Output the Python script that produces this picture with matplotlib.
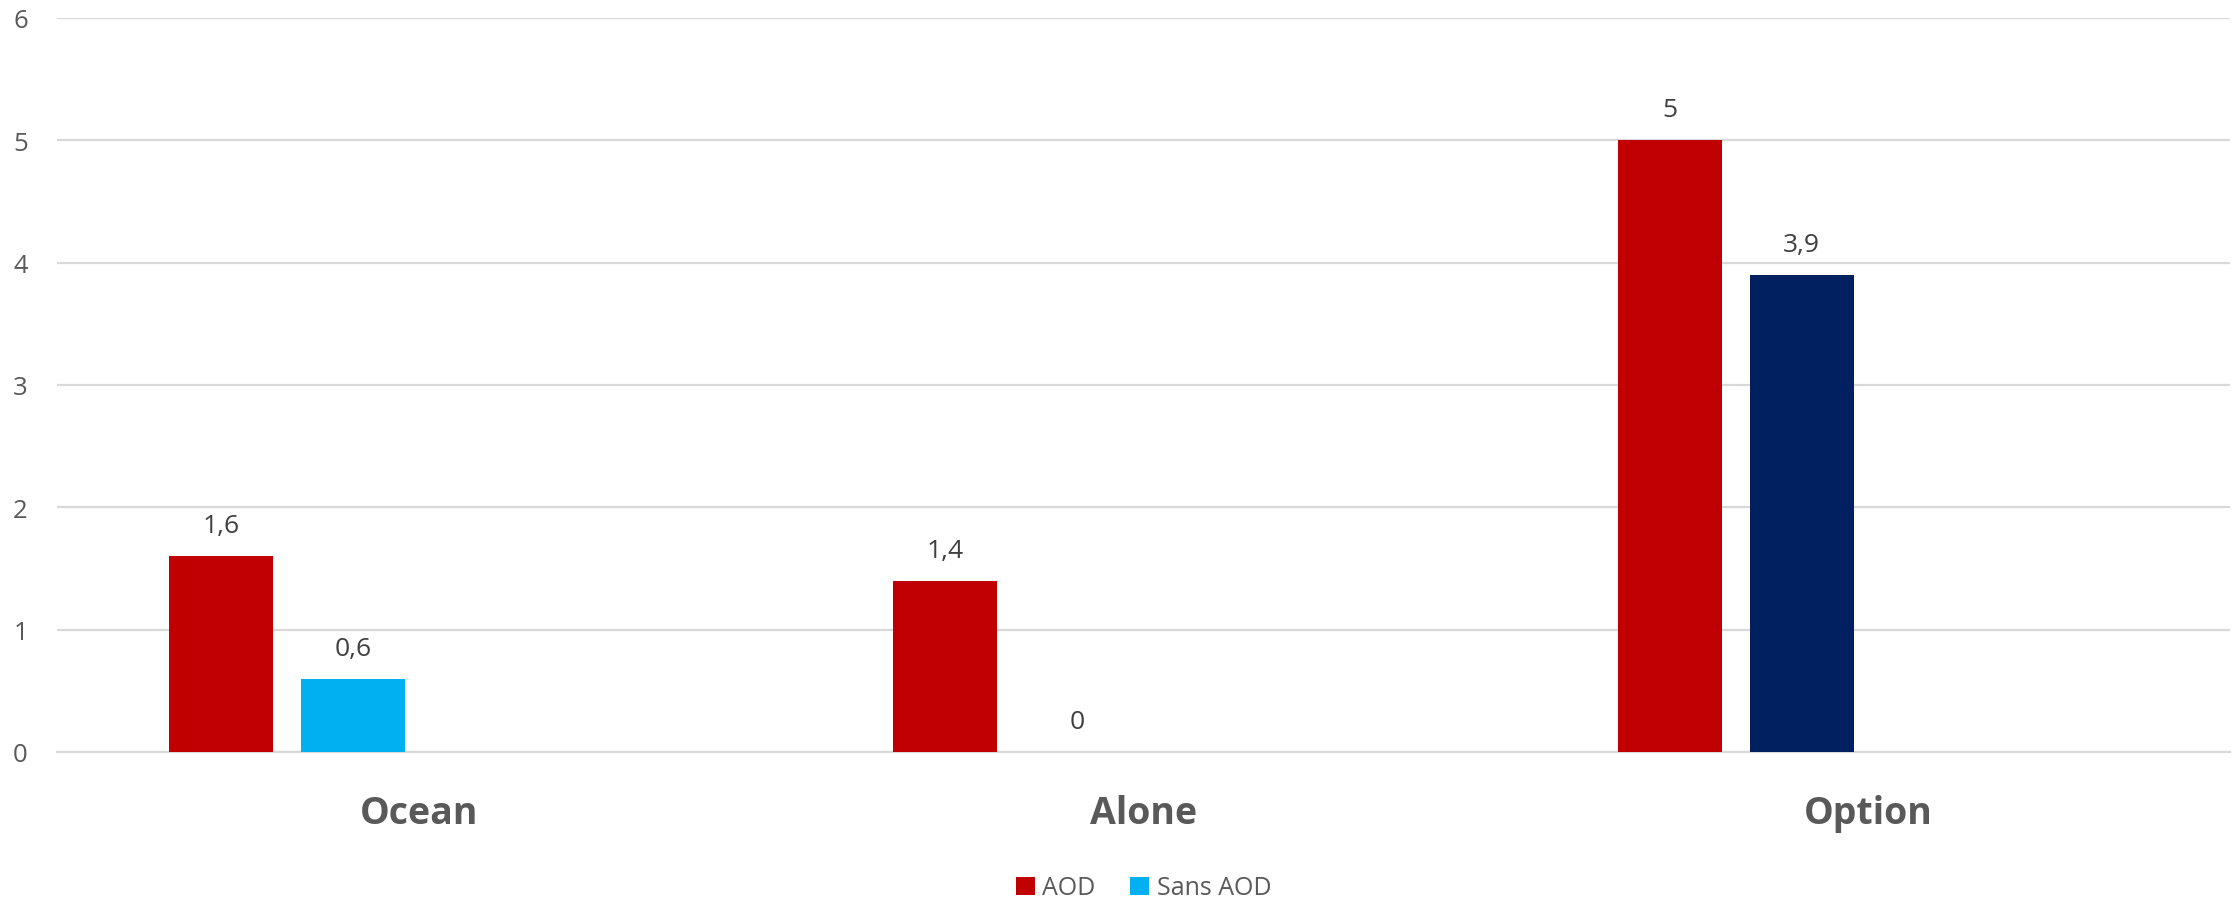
import matplotlib
matplotlib.use("Agg")
import matplotlib.pyplot as plt
from matplotlib.patches import Patch
import numpy as np

categories = ["Ocean", "Alone", "Option"]
series_names = ["AOD", "Sans AOD"]
aod = [1.6, 1.4, 5.0]
sans_aod = [0.6, 0.0, 3.9]
value_labels_aod = ["1,6", "1,4", "5"]
value_labels_sans = ["0,6", "0", "3,9"]
y_ticks = [0, 1, 2, 3, 4, 5, 6]

RED = "#C00000"
CYAN = "#00B0F0"
NAVY = "#002060"
GRID = "#D9D9D9"
AXIS_TEXT = "#595959"
LABEL_TEXT = "#404040"

plt.rcParams["font.family"] = ["Open Sans", "DejaVu Sans"]

W, H = 2232, 904
fig = plt.figure(figsize=(W / 100, H / 100), dpi=100)
left_px, right_px, top_px, bottom_px = 57, 2230, 19, 753
ax = fig.add_axes([left_px / W, 1 - bottom_px / H,
                   (right_px - left_px) / W, (bottom_px - top_px) / H])

# four bar slots per category (Excel-style layout), only the first two are used
slot_step = 132 / 724
bar_w = 104 / 724
x = np.arange(len(categories))
off_aod = -1.5 * slot_step
off_sans = -0.5 * slot_step

sans_colors = [CYAN, CYAN, NAVY]
bars_aod = ax.bar(x + off_aod, aod, width=bar_w, color=RED, zorder=3)
bars_sans = ax.bar(x + off_sans, sans_aod, width=bar_w, color=sans_colors, zorder=3)

for bars, labels in ((bars_aod, value_labels_aod), (bars_sans, value_labels_sans)):
    for b, lab in zip(bars, labels):
        ax.annotate(lab, (b.get_x() + b.get_width() / 2, b.get_height()),
                    xytext=(0, 22), textcoords="offset points",
                    ha="center", va="center", fontsize=19, color=LABEL_TEXT)

ax.set_xlim(-0.5, 2.5)
ax.set_ylim(0, 6)
ax.set_yticks(y_ticks)
ax.set_yticklabels([str(t) for t in y_ticks])
ax.yaxis.grid(True, color=GRID, linewidth=1.6, zorder=0)
ax.set_axisbelow(True)
for s in ("left", "right", "top"):
    ax.spines[s].set_visible(False)
ax.spines["bottom"].set_color(GRID)
ax.spines["bottom"].set_linewidth(1.6)
ax.tick_params(axis="both", length=0)
ax.tick_params(axis="y", labelsize=18.5, labelcolor=AXIS_TEXT, pad=21)

ax.set_xticks(x)
ax.set_xticklabels(categories, fontsize=27, fontweight="bold", color=AXIS_TEXT)
ax.tick_params(axis="x", pad=30)

handles = [Patch(facecolor=RED, label=series_names[0]),
           Patch(facecolor=CYAN, label=series_names[1])]
leg = fig.legend(handles=handles, loc="center",
                 bbox_to_anchor=((left_px + right_px) / 2 / W, 1 - 889 / H),
                 ncol=2, frameon=False, fontsize=18, handlelength=0.75,
                 handleheight=0.75, handletextpad=0.3, columnspacing=1.4)
for t in leg.get_texts():
    t.set_color(AXIS_TEXT)

fig.savefig("out.png", dpi=100, facecolor="white")
